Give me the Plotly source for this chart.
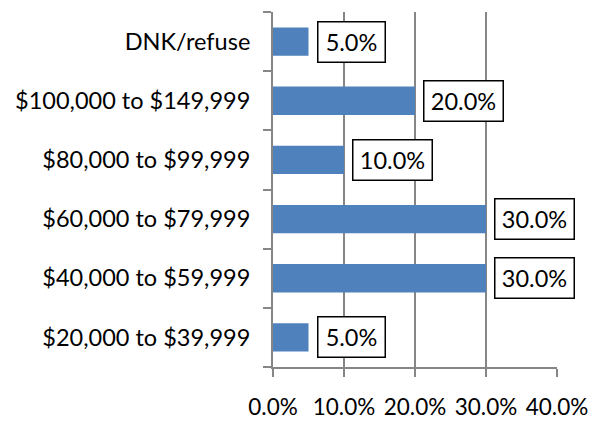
import plotly.graph_objects as go

categories = ["$20,000 to $39,999", "$40,000 to $59,999", "$60,000 to $79,999",
              "$80,000 to $99,999", "$100,000 to $149,999", "DNK/refuse"]
values = [0.05, 0.30, 0.30, 0.10, 0.20, 0.05]
label_texts = ["5.0%", "30.0%", "30.0%", "10.0%", "20.0%", "5.0%"]
x_ticks = [0, 0.1, 0.2, 0.3, 0.4]
x_tick_labels = ["0.0%", "10.0%", "20.0%", "30.0%", "40.0%"]

FONT = "Lato, 'Liberation Sans', sans-serif"
GRID = "#868686"
FS = 23.5

fig = go.Figure(go.Bar(
    x=values, y=categories, orientation="h",
    marker=dict(color="#4F81BD", line=dict(width=0)),
    width=0.48, hoverinfo="skip",
))

for v, c, t in zip(values, categories, label_texts):
    w = 58 if len(t) == 4 else 70
    fig.add_annotation(
        x=v, y=c, xref="x", yref="y", text=t, showarrow=False,
        xanchor="left", yanchor="middle", xshift=8,
        font=dict(family=FONT, size=FS, color="#000000"),
        bgcolor="#FFFFFF", bordercolor="#000000", borderwidth=1.5,
        borderpad=4, width=w, height=31, align="center",
    )

fig.update_layout(
    width=597, height=421,
    margin=dict(l=273, r=40, t=12, b=54, autoexpand=False),
    paper_bgcolor="#FFFFFF", plot_bgcolor="#FFFFFF",
    showlegend=False,
    font=dict(family=FONT, size=FS, color="#000000"),
    bargap=0.5,
)
fig.update_xaxes(
    range=[0, 0.4], tickvals=x_ticks, ticktext=x_tick_labels,
    showgrid=True, gridcolor=GRID, gridwidth=2,
    showline=True, linecolor=GRID, linewidth=2,
    ticks="outside", ticklen=8, tickcolor=GRID, tickwidth=2,
    ticklabelstandoff=11, zeroline=False, automargin=False,
    tickfont=dict(family=FONT, size=22.5, color="#000000"),
)
fig.update_yaxes(
    categoryorder="array", categoryarray=categories,
    showgrid=False, showline=True, linecolor=GRID, linewidth=2,
    ticks="outside", ticklen=8, tickcolor=GRID, tickwidth=2,
    tickson="boundaries", ticklabelstandoff=16, automargin=False,
    tickfont=dict(family=FONT, size=FS, color="#000000"),
)

fig.write_html("out.html", config={"displayModeBar": False},
               post_script="document.body.style.margin='0';document.body.style.overflow='hidden';")
